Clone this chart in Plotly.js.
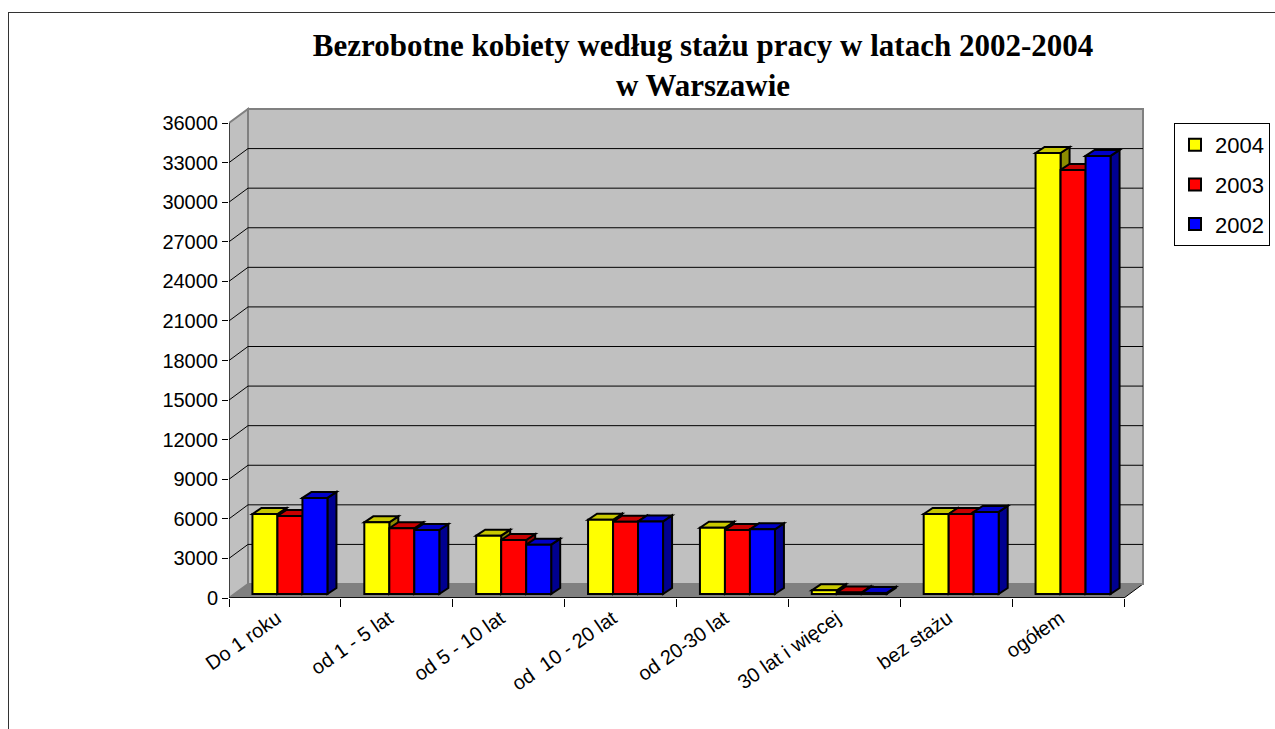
<!DOCTYPE html>
<html>
<head>
<meta charset="utf-8">
<script src="https://cdn.plot.ly/plotly-3.0.1.min.js"></script>
<style>
html,body{margin:0;padding:0;background:#fff;overflow:hidden;}
#frame{position:absolute;left:8px;top:12px;width:1400px;height:900px;border:1.5px solid #333;box-sizing:border-box;}
#chart{position:absolute;left:0;top:0;width:1275px;height:729px;}
</style>
</head>
<body>
<div id="frame"></div>
<div id="chart"></div>
<script>
// ---- data ----
const categories = ['Do 1 roku', 'od 1 - 5 lat', 'od 5 - 10 lat', 'od\u00a0 10 - 20 lat', 'od 20-30 lat', '30 lat i więcej', 'bez stażu', 'ogółem'];
const seriesNames = ['2004', '2003', '2002'];
const values2004 = [6060, 5430, 4420, 5630, 5020, 280, 6060, 33420];
const values2003 = [5910, 4980, 4090, 5480, 4850, 120, 6060, 32140];
const values2002 = [7280, 4850, 3740, 5500, 4900, 80, 6220, 33200];
const yTicks = [0, 3000, 6000, 9000, 12000, 15000, 18000, 21000, 24000, 27000, 30000, 33000, 36000];

// ---- styling / geometry ----
const frontColors = ['#ffff00', '#ff0000', '#0000ff'];
const topColors = ['#c8c800', '#c80000', '#0000c8'];
const sideColors = ['#8c8c00', '#8c0000', '#000090'];
const pxPerX = 111.875;          // px per category
const pxPerY = 475 / 36000;      // px per unit
const yMax = 498 / pxPerY;
const xMax = -0.5 + 916 / pxPerX;
const wallDx = 19 / pxPerX, wallDy = 14 / pxPerY;   // depth of the box
const barDx = 9 / pxPerX, barDy = 6 / pxPerY;       // depth of bars
const barShift = 4 / pxPerY;                        // bars sit a bit behind the front edge
const barW = 25 / pxPerX;
const offsets = [-32.5 / pxPerX, -7.5 / pxPerX, 17.5 / pxPerX];

const allValues = [values2004, values2003, values2002];
const xIdx = categories.map((c, i) => i);

const traces = allValues.map((vals, s) => ({
  type: 'bar',
  name: seriesNames[s],
  x: xIdx,
  y: vals,
  xaxis: 'x',
  yaxis: 'y2',
  width: barW,
  offset: offsets[s],
  legendgroup: 'g' + s,
  marker: {color: frontColors[s], line: {color: '#000', width: 2}},
  hoverinfo: 'y'
}));

const shapes = [];
const grey = '#808080';
// floor
shapes.push({type: 'path', xref: 'x', yref: 'y', layer: 'below',
  path: `M-0.5,0 L7.5,0 L${7.5 + wallDx},${wallDy} L${-0.5 + wallDx},${wallDy} Z`,
  fillcolor: grey, line: {color: '#000', width: 1}});
// left wall
shapes.push({type: 'path', xref: 'x', yref: 'y', layer: 'below',
  path: `M-0.5,0 L${-0.5 + wallDx},${wallDy} L${-0.5 + wallDx},${36000 + wallDy} L-0.5,36000 Z`,
  fillcolor: '#c0c0c0', line: {color: grey, width: 2}});
// back wall
shapes.push({type: 'rect', xref: 'x', yref: 'y', layer: 'below',
  x0: -0.5 + wallDx, x1: 7.5 + wallDx, y0: wallDy, y1: 36000 + wallDy,
  fillcolor: '#c0c0c0', line: {color: grey, width: 2}});
// gridlines on walls
yTicks.slice(1, -1).forEach(v => {
  shapes.push({type: 'line', xref: 'x', yref: 'y', layer: 'below',
    x0: -0.5, y0: v, x1: -0.5 + wallDx, y1: v + wallDy, line: {color: '#000', width: 1}});
  shapes.push({type: 'line', xref: 'x', yref: 'y', layer: 'below',
    x0: -0.5 + wallDx, y0: v + wallDy, x1: 7.5 + wallDx, y1: v + wallDy, line: {color: '#000', width: 1}});
});
// front axis lines
shapes.push({type: 'line', xref: 'x', yref: 'y', layer: 'below',
  x0: -0.5, y0: 0, x1: -0.5, y1: 36000, line: {color: '#000', width: 1}});
shapes.push({type: 'line', xref: 'x', yref: 'y', layer: 'below',
  x0: -0.5, y0: 0, x1: 7.5, y1: 0, line: {color: '#000', width: 1.5}});

// 3D faces of bars (top and side), drawn beneath the front faces
allValues.forEach((vals, s) => {
  vals.forEach((v, i) => {
    const x1 = i + offsets[s], x2 = x1 + barW;
    shapes.push({type: 'path', xref: 'x', yref: 'y2', layer: 'between',
      path: `M${x2},0 L${x2 + barDx},${barDy} L${x2 + barDx},${v + barDy} L${x2},${v} Z`,
      fillcolor: sideColors[s], line: {color: '#000', width: 2}});
    shapes.push({type: 'path', xref: 'x', yref: 'y2', layer: 'between',
      path: `M${x1},${v} L${x1 + barDx},${v + barDy} L${x2 + barDx},${v + barDy} L${x2},${v} Z`,
      fillcolor: topColors[s], line: {color: '#000', width: 2}});
  });
});

const font = 'Liberation Sans, Arial, sans-serif';
const layout = {
  width: 1275, height: 729,
  margin: {l: 229, r: 130, t: 100, b: 131, pad: 0},
  paper_bgcolor: 'rgba(0,0,0,0)',
  plot_bgcolor: 'rgba(0,0,0,0)',
  barmode: 'overlay',
  showlegend: true,
  title: {
    text: 'Bezrobotne kobiety według stażu pracy w latach 2002-2004<br>w Warszawie',
    font: {family: 'Liberation Serif, Times New Roman, serif', size: 31, color: '#000', weight: 'bold'},
    x: 703 / 1275, xref: 'container', xanchor: 'center',
    y: 1 - 56 / 729, yref: 'container', yanchor: 'top'
  },
  xaxis: {
    range: [-0.5, xMax], tickvals: xIdx, ticktext: categories, tickangle: -35,
    ticks: '', showgrid: false, zeroline: false, showline: false,
    ticklabelshift: -8, ticklabelstandoff: 4,
    tickfont: {family: font, size: 20, color: '#000'}, fixedrange: true
  },
  xaxis2: {
    overlaying: 'x', anchor: 'y', side: 'bottom',
    range: [-0.5, xMax], tickvals: [-0.5, 0.5, 1.5, 2.5, 3.5, 4.5, 5.5, 6.5, 7.5],
    ticks: 'outside', ticklen: 8, tickcolor: '#000', tickwidth: 1,
    showticklabels: false, showgrid: false, zeroline: false, showline: false
  },
  yaxis: {
    range: [0, yMax], tickvals: yTicks, ticktext: yTicks.map(String),
    ticks: 'outside', ticklen: 6, tickcolor: '#000', tickwidth: 1,
    showgrid: false, zeroline: false, showline: false,
    tickfont: {family: font, size: 20, color: '#000'}, fixedrange: true
  },
  yaxis2: {
    overlaying: 'y', anchor: 'x', range: [-barShift, yMax - barShift],
    showgrid: false, zeroline: false, showline: false, showticklabels: false, ticks: ''
  },
  legend: {
    x: 1174 / 1275, xref: 'container', xanchor: 'left',
    y: 1 - 123 / 729, yref: 'container', yanchor: 'top',
    bordercolor: '#000', borderwidth: 1, bgcolor: '#fff',
    font: {family: font, size: 22, color: '#000'},
    traceorder: 'grouped', tracegroupgap: 8, itemwidth: 30
  },
  shapes: shapes
};

// dummy trace to bring xaxis2 into existence
traces.push({type: 'scatter', x: [], y: [], xaxis: 'x2', yaxis: 'y', showlegend: false, hoverinfo: 'skip'});

Plotly.newPlot('chart', traces, layout, {displayModeBar: false, staticPlot: true});
</script>
</body>
</html>
